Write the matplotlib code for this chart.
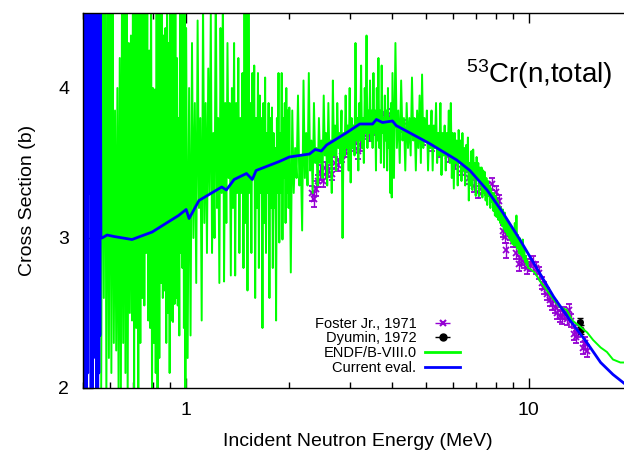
import matplotlib
matplotlib.use("Agg")
import matplotlib.pyplot as plt
import numpy as np
from matplotlib.ticker import LogLocator, NullFormatter

plt.rcParams["font.family"] = ["Liberation Sans", "DejaVu Sans"]

# ENDF/B-VIII.0 total cross section, read off the picture region by region
# (resonance structure kept as up/down spikes)
endf_e_a = [
    0.565, 0.570, 0.575, 0.580, 0.585, 0.590, 0.595, 0.600, 0.605, 0.610,
    0.615, 0.620, 0.625, 0.630, 0.635, 0.640, 0.645, 0.650, 0.655, 0.660,
    0.665, 0.670, 0.675, 0.680, 0.685, 0.690, 0.695, 0.700, 0.705, 0.710,
    0.715, 0.720, 0.725, 0.730, 0.735, 0.740, 0.745, 0.750, 0.755, 0.760,
    0.765, 0.770, 0.775, 0.780, 0.785, 0.790, 0.795, 0.800, 0.805, 0.810,
    0.815, 0.820, 0.825, 0.830, 0.835, 0.840, 0.845, 0.850, 0.855, 0.860,
    0.865, 0.870, 0.875, 0.880, 0.885, 0.890, 0.895, 0.900, 0.905, 0.910,
    0.915, 0.920, 0.925, 0.930, 0.935, 0.940, 0.945, 0.950, 0.955, 0.960,
    0.965, 0.970, 0.975, 0.980, 0.985, 0.990, 0.995, 1.000,
]
endf_xs_a = [
    2.0, 4.9, 2.6, 5.0, 1.9, 4.7, 2.2, 5.0, 2.1, 4.6,
    2.3, 3.85, 2.25, 4.0, 1.95, 4.2, 2.0, 4.8, 2.3, 4.9,
    2.1, 4.8, 1.9, 4.3, 2.5, 4.35, 2.45, 5.1, 2.0, 4.9,
    2.4, 4.7, 2.0, 5.0, 2.3, 4.6, 2.6, 4.9, 2.55, 4.7,
    2.9, 4.6, 2.45, 4.25, 2.4, 4.8, 1.9, 4.0, 2.3, 3.99,
    2.1, 4.8, 1.9, 4.9, 2.2, 4.5, 2.7, 4.6, 2.6, 4.35,
    2.65, 4.4, 2.3, 4.8, 2.5, 4.3, 2.1, 4.7, 2.45, 4.6,
    2.44, 4.9, 2.56, 4.6, 2.6, 4.2, 2.55, 3.8, 2.35, 4.6,
    2.9, 4.5, 2.8, 4.9, 2.4, 4.6, 2.0, 4.4,
]
endf_e_b = [
    1.01, 1.02, 1.03, 1.04, 1.05, 1.06, 1.07, 1.08, 1.09, 1.10,
    1.11, 1.12, 1.13, 1.14, 1.15, 1.16, 1.17, 1.18, 1.19, 1.20,
    1.21, 1.22, 1.23, 1.24, 1.25, 1.26, 1.27, 1.28, 1.29, 1.30,
    1.31, 1.32, 1.33, 1.34, 1.35, 1.36, 1.37, 1.38, 1.39, 1.40,
    1.41, 1.42, 1.43, 1.44, 1.45, 1.46, 1.47, 1.48, 1.49, 1.50,
    1.51, 1.52, 1.53, 1.54, 1.55, 1.56, 1.57, 1.58, 1.59, 1.60,
    1.61, 1.62, 1.63, 1.64, 1.65, 1.66, 1.67, 1.68, 1.69, 1.70,
    1.71, 1.72, 1.73, 1.74, 1.75, 1.76, 1.77, 1.78, 1.79, 1.80,
    1.81, 1.82, 1.83, 1.84, 1.85, 1.86, 1.87, 1.88, 1.89, 1.90,
    1.91, 1.92, 1.93, 1.94, 1.95, 1.96, 1.97, 1.98, 1.99, 2.00,
]
endf_xs_b = [
    2.2, 4.0, 2.35, 4.3, 3.0, 3.9, 2.7, 4.45, 3.2, 3.8,
    2.45, 4.6, 3.1, 3.9, 2.9, 4.13, 3.3, 4.5, 2.9, 3.7,
    3.0, 4.8, 3.2, 3.8, 2.7, 4.4, 3.3, 4.7, 2.71, 3.9,
    3.1, 4.3, 3.4, 3.9, 2.75, 4.0, 3.2, 4.3, 2.75, 3.9,
    3.3, 4.2, 2.9, 3.8, 3.3, 4.1, 2.8, 4.6, 3.1, 4.5,
    2.65, 4.7, 3.3, 3.9, 2.9, 4.1, 3.4, 4.15, 2.6, 3.8,
    3.2, 4.1, 2.8, 3.95, 3.3, 3.8, 2.4, 3.9, 3.1, 4.07,
    2.9, 3.7, 3.3, 3.9, 2.6, 3.8, 3.2, 3.87, 2.8, 3.7,
    3.2, 3.6, 2.45, 3.8, 3.3, 4.1, 2.97, 3.7, 3.3, 4.1,
    2.99, 3.8, 3.4, 3.9, 3.1, 4.0, 3.3, 3.85, 3.2, 3.87,
]
endf_e_c = [
    2.02, 2.04, 2.06, 2.08, 2.10, 2.12, 2.14, 2.16, 2.18, 2.20,
    2.22, 2.24, 2.26, 2.28, 2.30, 2.32, 2.34, 2.36, 2.38, 2.40,
    2.42, 2.44, 2.46, 2.48, 2.50, 2.52, 2.54, 2.56, 2.58, 2.60,
    2.62, 2.64, 2.66, 2.68, 2.70, 2.72, 2.74, 2.76, 2.78, 2.80,
    2.82, 2.84, 2.86, 2.88, 2.90, 2.92, 2.94, 2.96, 2.98, 3.00,
    3.02, 3.04, 3.06, 3.08, 3.10, 3.12, 3.14, 3.16, 3.18, 3.20,
    3.22, 3.24, 3.26, 3.28, 3.30, 3.32, 3.34, 3.36, 3.38, 3.40,
    3.42, 3.44, 3.46, 3.48, 3.50, 3.52, 3.54, 3.56, 3.58, 3.60,
    3.62, 3.64, 3.66, 3.68, 3.70, 3.72, 3.74, 3.76, 3.78, 3.80,
    3.82, 3.84, 3.86, 3.88, 3.90, 3.92, 3.94, 3.96, 3.98, 4.00,
]
endf_xs_c = [
    2.77, 3.85, 3.3, 3.6, 3.4, 3.95, 3.35, 3.55, 3.05, 4.05,
    3.4, 3.7, 3.35, 4.1, 3.45, 3.65, 3.3, 3.9, 3.5, 3.6,
    3.35, 3.8, 3.5, 3.65, 3.4, 3.95, 3.55, 3.7, 3.35, 3.9,
    3.5, 3.65, 3.3, 4.05, 3.55, 3.75, 3.45, 3.9, 3.6, 3.7,
    3.5, 3.85, 3.0, 3.7, 3.55, 3.95, 3.6, 3.75, 3.45, 4.0,
    3.37, 3.8, 3.6, 3.75, 3.55, 4.3, 3.65, 3.8, 3.45, 3.9,
    3.65, 4.15, 3.6, 3.8, 3.5, 4.0, 3.7, 4.35, 3.6, 3.85,
    3.7, 4.05, 3.65, 3.85, 3.6, 4.1, 3.7, 3.85, 3.45, 4.0,
    3.65, 4.2, 3.6, 3.85, 3.5, 4.15, 3.7, 3.8, 3.47, 3.95,
    3.65, 3.85, 3.45, 4.0, 3.6, 3.8, 3.3, 3.9, 3.27, 4.1,
]
endf_e_d = [
    4.04, 4.08, 4.12, 4.16, 4.20, 4.24, 4.28, 4.32, 4.36, 4.40,
    4.44, 4.48, 4.52, 4.56, 4.60, 4.64, 4.68, 4.72, 4.76, 4.80,
    4.84, 4.88, 4.92, 4.96, 5.00, 5.04, 5.08, 5.12, 5.16, 5.20,
    5.24, 5.28, 5.32, 5.36, 5.40, 5.44, 5.48, 5.52, 5.56, 5.60,
    5.64, 5.68, 5.72, 5.76, 5.80, 5.84, 5.88, 5.92, 5.96, 6.00,
    6.04, 6.08, 6.12, 6.16, 6.20, 6.24, 6.28, 6.32, 6.36, 6.40,
    6.44, 6.48, 6.52, 6.56, 6.60, 6.64, 6.68, 6.72, 6.76, 6.80,
    6.84, 6.88, 6.92, 6.96, 7.00, 7.04, 7.08, 7.12, 7.16, 7.20,
    7.24, 7.28, 7.32, 7.36, 7.40, 7.44, 7.48, 7.52, 7.56, 7.60,
    7.64, 7.68, 7.72, 7.76, 7.80, 7.84, 7.88, 7.92, 7.96, 8.00,
]
endf_xs_d = [
    3.4, 4.3, 3.6, 3.85, 3.5, 4.05, 3.65, 3.8, 3.45, 3.9,
    3.6, 3.8, 3.55, 4.07, 3.65, 3.8, 3.45, 3.85, 3.6, 3.95,
    3.5, 4.09, 3.6, 3.8, 3.65, 3.85, 3.45, 3.75, 3.6, 3.85,
    3.45, 3.75, 3.6, 3.9, 3.5, 3.7, 3.55, 3.9, 3.42, 3.7,
    3.55, 3.75, 3.45, 3.7, 3.55, 3.85, 3.5, 3.9, 3.4, 3.7,
    3.33, 3.7, 3.5, 3.65, 3.35, 3.72, 3.5, 3.65, 3.38, 3.7,
    3.45, 3.6, 3.35, 3.62, 3.45, 3.67, 3.25, 3.5, 3.35, 3.58,
    3.32, 3.59, 3.4, 3.5, 3.28, 3.54, 3.4, 3.5, 3.28, 3.47,
    3.35, 3.47, 3.27, 3.45, 3.3, 3.44, 3.25, 3.4, 3.22, 3.38,
    3.28, 3.35, 3.2, 3.33, 3.24, 3.3, 3.18, 3.3, 3.15, 3.28,
]
endf_e_e = [
    8.05, 8.10, 8.15, 8.20, 8.25, 8.30, 8.35, 8.40, 8.45, 8.50,
    8.55, 8.60, 8.65, 8.70, 8.75, 8.80, 8.85, 8.90, 8.95, 9.00,
    9.05, 9.10, 9.15, 9.20, 9.25, 9.30, 9.35, 9.40, 9.45, 9.50,
    9.55, 9.60, 9.65, 9.70, 9.75, 9.80, 9.85, 9.90, 9.95, 10.0,
    10.4, 10.8, 11.3, 11.8, 12.3, 12.9, 13.4, 14.1, 14.8, 15.4,
    16.2, 16.9, 17.6, 18.5, 19.0, 20.0,
]
endf_xs_e = [
    3.14, 3.25, 3.12, 3.22, 3.1, 3.2, 3.08, 3.19, 3.06, 3.17,
    3.04, 3.12, 3.02, 3.1, 3.0, 3.08, 2.98, 3.06, 2.96, 3.04,
    2.95, 3.1, 2.95, 3.15, 2.93, 3.02, 2.9, 3.0, 2.89, 2.97,
    2.88, 2.99, 2.86, 2.92, 2.84, 2.88, 2.82, 2.85, 2.8, 2.8,
    2.77, 2.71, 2.65, 2.59, 2.54, 2.52, 2.45, 2.41, 2.37, 2.32,
    2.27, 2.24, 2.19, 2.17, 2.17, 2.16,
]

# current evaluation (resolved resonances below 0.565 MeV, then smooth)
cur_e = [
    0.500, 0.502, 0.504, 0.506, 0.508, 0.510, 0.512, 0.514, 0.516, 0.518, 0.520,
    0.522, 0.524, 0.526, 0.528, 0.530, 0.532, 0.534, 0.536, 0.538, 0.540, 0.542,
    0.544, 0.546, 0.548, 0.550, 0.552, 0.554, 0.556, 0.558, 0.560, 0.562, 0.564,
    0.568, 0.588, 0.616, 0.695, 0.796, 0.95, 1.0, 1.02, 1.09, 1.27, 1.31, 1.38,
    1.50, 1.56, 1.60, 1.87, 2.0, 2.29, 2.38, 2.48, 2.57, 2.93, 3.21, 3.50, 3.59,
    3.74, 4.0, 4.1, 5.13, 6.16, 6.73, 7.55, 8.39, 9.41, 10.6, 11.8, 13.2, 14.8,
    16.2, 17.6, 19.0, 20.0,
]
cur_xs = [
    2.75, 4.9, 2.3, 5.1, 2.0, 4.8, 1.9, 5.0, 2.1, 4.7, 3.3,
    5.2, 3.4, 4.9, 1.9, 5.0, 2.0, 4.8, 2.6, 5.1, 2.65, 4.9,
    2.2, 5.0, 1.9, 4.7, 2.0, 5.1, 2.1, 4.8, 2.35, 4.6, 3.01,
    3.00, 3.02, 3.01, 2.99, 3.04, 3.15, 3.19, 3.13, 3.25, 3.34, 3.32, 3.39,
    3.43, 3.39, 3.45, 3.51, 3.54, 3.56, 3.59, 3.58, 3.62, 3.70, 3.76, 3.76, 3.79,
    3.77, 3.78, 3.75, 3.63, 3.52, 3.45, 3.32, 3.17, 2.99, 2.79, 2.61, 2.45, 2.30,
    2.17, 2.09, 2.03, 1.99,
]

# Foster Jr., 1971
foster_e = [
    2.33, 2.36, 2.39, 2.42, 2.45, 2.50, 2.55, 2.60, 2.66, 2.72, 2.77, 2.84, 2.90,
    2.96, 3.02, 3.10, 3.18, 3.22, 3.28, 3.35, 3.42, 3.50, 3.58, 3.66, 3.74, 3.84,
    3.95, 4.06, 4.3, 4.6, 4.9, 5.2, 5.5, 5.8, 6.1, 6.4, 6.7, 6.9, 7.1, 7.3, 7.55,
    7.8, 8.0, 8.2, 8.4, 8.5, 8.6, 8.8, 9.0, 9.2, 9.35, 9.5, 9.7, 9.9, 10.1, 10.3,
    10.5, 10.7, 10.9, 11.1, 11.3, 11.5, 11.7, 11.9, 12.1, 12.3, 12.5, 12.7, 12.9,
    13.1, 13.3, 13.5, 13.7, 13.9, 14.1, 14.4, 14.6, 14.8,
]
foster_xs = [
    3.30, 3.26, 3.33, 3.38, 3.44, 3.38, 3.47, 3.45, 3.43, 3.50, 3.49, 3.55, 3.58,
    3.60, 3.62, 3.64, 3.58, 3.62, 3.70, 3.72, 3.69, 3.73, 3.75, 3.77, 3.79, 3.80,
    3.82, 3.78, 3.75, 3.72, 3.66, 3.62, 3.58, 3.55, 3.50, 3.46, 3.40, 3.35, 3.31,
    3.34, 3.33, 3.36, 3.31, 3.25, 3.05, 3.01, 2.92, 3.03, 2.98, 2.90, 2.83, 2.86,
    2.84, 2.80, 2.82, 2.83, 2.80, 2.77, 2.70, 2.67, 2.63, 2.59, 2.56, 2.54, 2.50,
    2.48, 2.47, 2.50, 2.46, 2.52, 2.45, 2.36, 2.34, 2.38, 2.41, 2.27, 2.30, 2.25,
]
foster_err = [
    0.05, 0.05, 0.05, 0.04, 0.05, 0.04, 0.04, 0.04, 0.04, 0.04, 0.04, 0.04, 0.04,
    0.04, 0.04, 0.04, 0.05, 0.04, 0.04, 0.04, 0.04, 0.04, 0.04, 0.04, 0.04, 0.04,
    0.04, 0.04, 0.04, 0.04, 0.04, 0.04, 0.04, 0.04, 0.04, 0.04, 0.04, 0.04, 0.04,
    0.04, 0.04, 0.04, 0.04, 0.04, 0.04, 0.04, 0.05, 0.04, 0.04, 0.04, 0.05, 0.04,
    0.04, 0.04, 0.04, 0.05, 0.04, 0.04, 0.04, 0.04, 0.04, 0.04, 0.04, 0.04, 0.04,
    0.04, 0.04, 0.04, 0.04, 0.04, 0.04, 0.04, 0.04, 0.04, 0.04, 0.04, 0.04, 0.04,
]

# Dyumin, 1972
dyumin_e = [14.1, 14.2]
dyumin_xs = [2.44, 2.39]
dyumin_err = [0.03, 0.03]

purple = "#9400d3"

endf_e = endf_e_a + endf_e_b + endf_e_c + endf_e_d + endf_e_e
endf_xs = endf_xs_a + endf_xs_b + endf_xs_c + endf_xs_d + endf_xs_e

fig = plt.figure(figsize=(6.24, 4.57), dpi=100)
ax = fig.add_axes([83 / 624, 69 / 457, 549 / 624, 375 / 457])

ax.errorbar(foster_e, foster_xs, yerr=foster_err, fmt="x", color=purple,
            ms=5, mew=1.3, elinewidth=1, capsize=2.5, capthick=1, zorder=1)
ax.errorbar(dyumin_e, dyumin_xs, yerr=dyumin_err, fmt="o", color="black",
            ms=4, elinewidth=1, capsize=2.5, capthick=1, zorder=1.5)
ax.plot(endf_e, endf_xs, color="#00ff00", lw=1.4, zorder=3)
ax.plot(cur_e, cur_xs, color="#0000ff", lw=2, zorder=4)

ax.set_xscale("log")
ax.set_xlim(0.5, 20)
ax.set_ylim(2, 4.5)
ax.set_xticks([1, 10])
ax.set_xticklabels(["1", "10"])
ax.xaxis.set_minor_locator(LogLocator(base=10, subs=np.arange(2, 10)))
ax.xaxis.set_minor_formatter(NullFormatter())
ax.set_yticks([2, 3, 4])
ax.tick_params(which="both", direction="in", top=True, right=False, labelsize=14)
ax.tick_params(which="major", length=7, width=1, pad=10)
ax.tick_params(which="minor", length=4, width=1)
for s in ax.spines.values():
    s.set_linewidth(1)
    s.set_zorder(5)

ax.set_xlabel("Incident Neutron Energy (MeV)", fontsize=14, labelpad=10)
ax.set_ylabel("Cross Section (b)", fontsize=14, labelpad=16)

ax.text(0.965, 0.813, r"$\mathregular{^{53}}$Cr(n,total)", transform=ax.transAxes,
        ha="right", va="baseline", fontsize=20, zorder=6)

# legend proxies drawn gnuplot-style (horizontal bar with caps)
h1 = ax.errorbar([], [], xerr=np.zeros(0), fmt="x", color=purple, ms=5, mew=1.5,
                 elinewidth=1, capsize=3, capthick=1)
h2 = ax.errorbar([], [], xerr=np.zeros(0), fmt="o", color="black", ms=5,
                 elinewidth=1, capsize=3, capthick=1)
h3, = ax.plot([], [], color="#00ff00", lw=2)
h4, = ax.plot([], [], color="#0000ff", lw=2)
ax.legend([h1, h2, h3, h4],
          ["Foster Jr., 1971", "Dyumin, 1972", "ENDF/B-VIII.0", "Current eval."],
          loc="lower right", bbox_to_anchor=(0.687, 0.035), frameon=False,
          markerfirst=False, fontsize=10.5, handlelength=2.4, handletextpad=0.6,
          labelspacing=0.05, borderpad=0, borderaxespad=0)

fig.savefig("out.png", dpi=100)
